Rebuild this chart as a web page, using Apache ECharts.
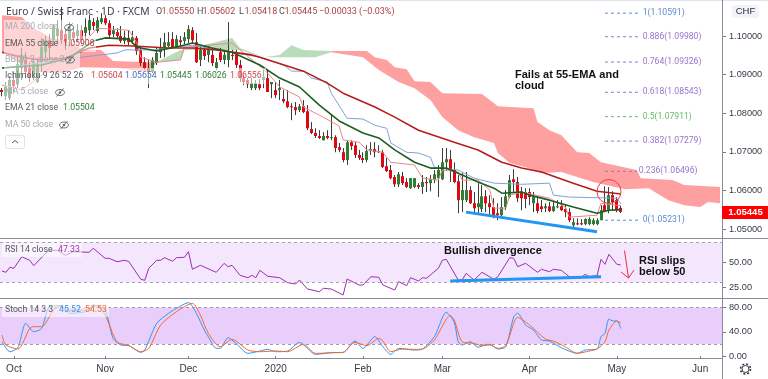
<!DOCTYPE html>
<html lang="en">
<head>
<meta charset="UTF-8">
<style>html,body{margin:0;padding:0;background:#fff}#chart{width:768px;height:379px}</style>
<script src="https://cdn.jsdelivr.net/npm/echarts@6/dist/echarts.min.js"></script>
</head>
<body>
<div id="chart"></div>
<script>
// candles, one row = 10 bars
var opens = [1.0860,1.0844,1.0839,1.0886,1.0875,1.0917,1.0938,1.0917,1.0901,1.0881,
1.0930,1.0958,1.0989,1.0989,1.1000,1.1015,1.1005,1.0989,1.1010,1.1000,
1.1015,1.1008,1.1015,1.1036,1.1013,1.1036,1.1046,1.1033,1.1005,1.1010,
1.1000,1.0987,1.0995,1.0987,1.0995,1.0964,1.0932,1.0917,1.0907,1.0930,
1.0958,1.0971,1.0974,1.0992,1.0971,1.0989,1.0987,1.0992,1.1015,1.0984,
1.0938,1.0964,1.0951,1.0951,1.0917,1.0958,1.0938,1.0938,1.0951,1.0951,
1.0925,1.0891,1.0886,1.0865,1.0865,1.0875,1.0886,1.0891,1.0875,1.0860,
1.0860,1.0837,1.0831,1.0818,1.0816,1.0808,1.0818,1.0805,1.0759,1.0749,
1.0741,1.0730,1.0741,1.0736,1.0738,1.0712,1.0699,1.0679,1.0725,1.0717,
1.0692,1.0684,1.0679,1.0702,1.0707,1.0699,1.0699,1.0663,1.0653,1.0635,
1.0616,1.0637,1.0622,1.0606,1.0609,1.0614,1.0609,1.0622,1.0619,1.0627,
1.0632,1.0629,1.0673,1.0681,1.0653,1.0624,1.0575,1.0575,1.0601,1.0567,
1.0557,1.0552,1.0585,1.0567,1.0557,1.0541,1.0536,1.0557,1.0583,1.0629,
1.0622,1.0598,1.0596,1.0596,1.0567,1.0567,1.0559,1.0554,1.0559,1.0547,
1.0557,1.0559,1.0552,1.0544,1.0510,1.0515,1.0515,1.0513,1.0513,1.0513,
1.0513,1.0523,1.0562,1.0549,1.0588,1.0575,1.0555];
var closes = [1.0855,1.0870,1.0886,1.0870,1.0927,1.0951,1.0907,1.0891,1.0932,1.0930,
1.0971,1.0989,1.0969,1.1020,1.1020,1.0989,1.0984,1.1020,1.0995,1.1015,
1.0989,1.1023,1.1041,1.1026,1.1041,1.1046,1.1033,1.1002,1.1015,1.1000,
1.0987,1.0997,1.0984,1.0997,1.0961,1.0930,1.0917,1.0907,1.0938,1.0956,
1.0971,1.0984,1.0984,1.0971,1.0992,1.0984,1.0997,1.1018,1.0989,1.0932,
1.0964,1.0948,1.0964,1.0930,1.0932,1.0938,1.0951,1.0958,1.0948,1.0925,
1.0891,1.0881,1.0875,1.0878,1.0878,1.0865,1.0894,1.0855,1.0881,1.0847,
1.0865,1.0831,1.0816,1.0816,1.0808,1.0818,1.0803,1.0761,1.0749,1.0741,
1.0736,1.0741,1.0736,1.0738,1.0710,1.0705,1.0679,1.0725,1.0715,1.0692,
1.0684,1.0679,1.0702,1.0707,1.0699,1.0702,1.0661,1.0650,1.0632,1.0616,
1.0642,1.0619,1.0609,1.0632,1.0632,1.0609,1.0622,1.0619,1.0629,1.0642,
1.0653,1.0673,1.0681,1.0653,1.0622,1.0575,1.0601,1.0601,1.0567,1.0554,
1.0567,1.0585,1.0567,1.0557,1.0536,1.0536,1.0557,1.0585,1.0627,1.0622,
1.0580,1.0580,1.0578,1.0583,1.0583,1.0547,1.0552,1.0559,1.0547,1.0559,
1.0559,1.0549,1.0544,1.0523,1.0518,1.0513,1.0513,1.0526,1.0526,1.0523,
1.0523,1.0549,1.0547,1.0588,1.0570,1.0549,1.05445];
var highs = [1.0865,1.0881,1.0896,1.0907,1.0948,1.0969,1.0958,1.0932,1.0943,1.0938,
1.0995,1.1000,1.1005,1.1031,1.1041,1.1075,1.1020,1.1036,1.1023,1.1031,
1.1028,1.1046,1.1054,1.1046,1.1049,1.1059,1.1054,1.1041,1.1026,1.1020,
1.1026,1.1013,1.1015,1.1013,1.1000,1.0974,1.0945,1.0938,1.0945,1.0971,
1.0995,1.1008,1.1010,1.1010,1.1002,1.1000,1.1010,1.1028,1.1023,1.1008,
1.0974,1.0976,1.0974,1.0964,1.0943,1.0969,1.0964,1.1036,1.0964,1.0964,
1.0938,1.0899,1.0891,1.0891,1.0886,1.0888,1.0919,1.0912,1.0881,1.0881,
1.0886,1.0860,1.0860,1.0826,1.0829,1.0824,1.0834,1.0821,1.0777,1.0761,
1.0756,1.0751,1.0756,1.0795,1.0743,1.0723,1.0710,1.0730,1.0730,1.0725,
1.0705,1.0699,1.0717,1.0725,1.0725,1.0717,1.0705,1.0684,1.0666,1.0640,
1.0648,1.0648,1.0632,1.0632,1.0632,1.0619,1.0640,1.0635,1.0640,1.0653,
1.0666,1.0710,1.0710,1.0705,1.0673,1.0640,1.0645,1.0648,1.0611,1.0596,
1.0619,1.0614,1.0601,1.0588,1.0580,1.0567,1.0583,1.0601,1.0640,1.0655,
1.0635,1.0609,1.0606,1.0606,1.0596,1.0580,1.0575,1.0567,1.0570,1.0575,
1.0575,1.0575,1.0562,1.0554,1.0528,1.0528,1.0526,1.0528,1.0531,1.0528,
1.0528,1.0562,1.0611,1.0609,1.0598,1.0583,1.05602];
var lows = [1.0844,1.0834,1.0834,1.0855,1.0865,1.0886,1.0891,1.0881,1.0886,1.0878,
1.0907,1.0943,1.0938,1.0974,1.0979,1.0979,1.0964,1.0974,1.0984,1.0984,
1.0979,1.0989,1.1002,1.1015,1.1008,1.1031,1.1028,1.0995,1.0997,1.0995,
1.0982,1.0979,1.0976,1.0979,1.0951,1.0922,1.0912,1.0865,1.0904,1.0925,
1.0943,1.0945,1.0971,1.0969,1.0969,1.0974,1.0979,1.0982,1.0982,1.0930,
1.0922,1.0938,1.0932,1.0922,1.0912,1.0932,1.0927,1.0919,1.0938,1.0917,
1.0881,1.0873,1.0865,1.0860,1.0860,1.0860,1.0865,1.0855,1.0839,1.0839,
1.0834,1.0826,1.0813,1.0782,1.0795,1.0803,1.0800,1.0756,1.0746,1.0736,
1.0733,1.0730,1.0733,1.0730,1.0699,1.0699,1.0673,1.0666,1.0705,1.0684,
1.0679,1.0671,1.0673,1.0692,1.0686,1.0697,1.0658,1.0648,1.0629,1.0609,
1.0609,1.0614,1.0606,1.0604,1.0606,1.0604,1.0591,1.0596,1.0598,1.0619,
1.0583,1.0627,1.0653,1.0622,1.0619,1.0541,1.0544,1.0570,1.0565,1.0544,
1.0541,1.0544,1.0544,1.0536,1.0528,1.0523,1.0528,1.0549,1.0580,1.0596,
1.0570,1.0549,1.0554,1.0562,1.0544,1.0541,1.0544,1.0544,1.0544,1.0544,
1.0554,1.0547,1.0531,1.0518,1.0505,1.0510,1.0510,1.0510,1.0510,1.0510,
1.0510,1.0523,1.0544,1.0541,1.0547,1.0544,1.05418];

// indicators as [bar, value]
var ema55 = [[0,1.0958],[5,1.0945],[10,1.0938],[16,1.0943],[22,1.0969],[27,1.0976],[33,1.0974],[42,1.0969],[48,1.0969],[54,1.0964],[63,1.0951],[65,1.0945],[76,1.0909],[82,1.0878],[86,1.0852],[94,1.0816],[99,1.0790],[105,1.0756],[114,1.0725],[120,1.0705],[126,1.0673],[131,1.0658],[136,1.0648],[144,1.0619],[150,1.0598],[156,1.05908]];
var ema21 = [[0,1.0917],[10,1.0925],[17,1.0943],[23,1.0987],[26,1.0995],[32,1.0992],[34,1.0971],[39,1.0961],[45,1.0974],[48,1.0982],[53,1.0969],[58,1.0958],[65,1.0925],[70,1.0891],[75,1.0868],[80,1.0821],[85,1.0780],[91,1.0749],[95,1.0736],[99,1.0705],[104,1.0673],[108,1.0658],[112,1.0658],[116,1.0640],[120,1.0622],[124,1.0606],[126,1.0593],[131,1.0596],[133,1.0588],[138,1.0575],[144,1.0557],[150,1.0541],[153,1.0549],[156,1.05504]];
var conversion = [[0,1.0873],[5,1.0860],[10,1.0899],[15,1.0945],[20,1.0976],[24,1.1020],[32,1.1015],[34,1.0982],[35,1.0945],[39,1.0932],[45,1.0938],[46,1.0971],[52,1.0976],[58,1.0982],[60,1.0964],[64,1.0930],[67,1.0904],[70,1.0868],[75,1.0842],[76,1.0816],[80,1.0795],[85,1.0767],[86,1.0731],[90,1.0725],[92,1.0705],[96,1.0699],[98,1.0673],[104,1.0666],[106,1.0632],[110,1.0627],[111,1.0653],[115,1.0648],[116,1.0627],[120,1.0627],[123,1.0601],[124,1.0554],[127,1.0554],[128,1.0588],[131,1.0596],[138,1.0580],[142,1.0557],[143,1.0531],[150,1.0536],[151,1.0567],[156,1.05604]];
var baseLine = [[0,1.0917],[20,1.0945],[29,1.0956],[31,1.0964],[38,1.0964],[48,1.0976],[65,1.0945],[71,1.0925],[73,1.0909],[76,1.0909],[78,1.0891],[82,1.0881],[83,1.0852],[87,1.0787],[91,1.0785],[94,1.0769],[97,1.0761],[98,1.0723],[102,1.0699],[105,1.0697],[108,1.0686],[109,1.0660],[115,1.0653],[119,1.0632],[124,1.0619],[131,1.0616],[138,1.0619],[139,1.0588],[143,1.0583],[155,1.0580],[156,1.05654]];

// ichimoku cloud edges, one pair of arrays per coloured stretch
var cloudRed1Top = [[0,1.1054],[5,1.1049],[8,1.1020],[10,1.1010],[12,1.0997],[17,1.0984],[20,1.0966],[25,1.0964],[28,1.0935],[37,1.0932],[39,1.0932]];
var cloudRed1Bottom = [[0,1.0958],[8,1.0907],[15,1.0904],[20,1.0919],[29,1.0917],[37,1.0907],[39,1.0932]];
var cloudGreen1Top = [[39,1.0932],[41,1.0943],[45,1.0964],[53,1.0982],[58,1.0995],[60,1.0969],[66,1.0945]];
var cloudGreen1Bottom = [[39,1.0932],[45,1.0938],[46,1.0964],[60,1.0964],[66,1.0945]];
var cloudGreen2Top = [[66,1.0945],[70,1.0951],[73,1.0976],[76,1.0964],[83,1.0961]];
var cloudGreen2Bottom = [[66,1.0945],[79,1.0945],[83,1.0958]];
var cloudRed2Top = [[83,1.0961],[92,1.0961],[94,1.0945],[97,1.0938],[99,1.0919],[102,1.0914],[104,1.0883],[108,1.0881],[111,1.0852],[121,1.0850],[125,1.0818],[134,1.0813],[135,1.0777],[138,1.0756],[141,1.0743],[145,1.0699],[148,1.0697],[151,1.0673],[160,1.0653],[161,1.0632],[169,1.0627],[172,1.0614],[181,1.0609]];
var cloudRed2Bottom = [[83,1.0958],[91,1.0945],[95,1.0912],[100,1.0881],[104,1.0865],[108,1.0834],[111,1.0790],[115,1.0756],[119,1.0738],[124,1.0723],[125,1.0697],[128,1.0671],[132,1.0660],[136,1.0645],[141,1.0648],[145,1.0635],[149,1.0622],[157,1.0603],[163,1.0606],[168,1.0575],[172,1.0562],[176,1.0557],[178,1.0570],[181,1.0567]];

// fibonacci retracement
var fibNames = ['1','0.886','0.764','0.618','0.5','0.382','0.236','0'];
var fibValues = [1.10591,1.09980,1.09326,1.08543,1.07911,1.07279,1.06496,1.05231];
var fibColors = ['#5b8bd0','#9575cd','#9575cd','#9575cd','#66bb6a','#9575cd','#9575cd','#5b8bd0'];

// hand drawn trend lines
var priceTrend = [[117,1.0544],[150,1.0493]];
var rsiTrend = [[113,31.3],[151,35.6]];

var rsi = [[0,41.3],[1,40],[2,45],[3,44],[5,55.6],[7,52],[8,46.6],[11,59],[12,62],[14,62],[16,57],[18,60.6],[22,60],[23,64],[26,54],[27,54],[29,50.6],[31,52],[32,50.6],[35,33],[36,32],[37,44],[39,52],[40,52],[41,54.6],[43,51],[44,54.6],[46,55],[47,60.6],[48,43],[50,47],[54,40],[56,49],[57,45.6],[58,47],[60,37],[62,34.6],[63,37],[64,34.6],[65,42],[67,36],[70,34.6],[72,29.6],[74,28.3],[75,32.3],[77,23.3],[80,20.6],[81,24],[83,23.3],[86,17.3],[87,33.3],[90,27.3],[91,27.3],[93,35.6],[95,35],[96,27.3],[99,22.3],[100,30.6],[102,26.6],[103,34.6],[105,31.3],[106,34.6],[107,34],[110,44],[111,52],[112,53],[115,32.3],[116,32.3],[117,39],[119,32.3],[121,40],[124,33],[125,35.6],[128,54.6],[129,54],[130,45.6],[132,49],[135,40],[136,43],[138,40.6],[139,43],[141,42],[143,35.6],[146,34.6],[147,38],[148,35.6],[150,36.6],[151,53],[152,48],[153,58],[155,48],[156,47.33]];
var stochK = [[0,23.8],[2,7.3],[4,13.9],[6,54],[8,40.3],[10,45.8],[12,81.6],[15,83.2],[17,70.6],[21,73.3],[23,84.3],[26,76],[28,29.3],[30,18.3],[32,17.2],[35,6.2],[36,10],[39,54],[42,70.6],[44,78.8],[47,88.2],[49,70.6],[51,43],[52,32],[54,12.8],[55,12.8],[57,30.4],[59,21],[62,4.6],[65,8.4],[67,11.2],[69,7.3],[72,8.4],[75,22.7],[77,12.8],[79,2.9],[83,5.7],[86,6.2],[89,24.9],[91,12.8],[94,32],[96,15.6],[98,2.9],[100,12.8],[104,10],[106,11.7],[109,32],[112,72.2],[114,55.7],[115,23.8],[116,18.3],[118,23.8],[120,14.5],[122,19.4],[123,19.4],[125,11.7],[127,15.6],[129,65],[130,70.6],[132,51.3],[134,43],[136,26.6],[138,24.9],[141,13.9],[145,4.6],[147,10],[150,11.7],[151,32],[152,37.6],[153,61.2],[154,58],[155,58],[156,45.52]];
var stochD = [[0,34.8],[1,18.3],[4,11.7],[7,45.8],[8,48.6],[10,48.6],[13,76],[15,83.2],[16,76],[21,76],[24,83.2],[26,67.8],[29,23.8],[32,17.2],[35,7.3],[37,12.8],[40,51.3],[44,73.3],[48,87],[50,67.8],[52,37.6],[55,15.6],[58,27.6],[62,10],[65,7.3],[69,8.4],[72,7.3],[76,19.4],[79,4.6],[84,5.7],[86,6.2],[89,22.7],[92,17.2],[95,29.3],[96,24.9],[98,7.3],[101,11.7],[104,11.1],[106,11.7],[109,26.6],[113,66.7],[114,59.6],[116,23.8],[119,21],[121,17.2],[123,18.3],[125,12.8],[127,17.2],[130,64],[133,51.3],[137,28.2],[139,24.9],[142,15.6],[145,4.6],[148,8.4],[150,11.7],[152,23.8],[153,43],[155,57.9],[156,54.53]];

var tickIndex = [3,26,47,69,91,111,133,155,176];
var tickLabels = ['Oct','Nov','Dec','2020','Feb','Mar','Apr','May','Jun'];
var priceTicks = [1.05,1.06,1.07,1.08,1.09,1.10];
var rsiTicks = [25,50];
var stochTicks = [0,40,80];

var barCount = 182;
var categories = [];
for (var i = 0; i < barCount; i++) categories.push('bar' + i);

var candleData = opens.map(function (o, k) { return [k, o, closes[k], lows[k], highs[k]]; });

var cloudRuns = [
    {top: cloudRed1Top, bottom: cloudRed1Bottom, color: '#ffa0a0'},
    {top: cloudGreen1Top, bottom: cloudGreen1Bottom, color: '#b9dcbb'},
    {top: cloudGreen2Top, bottom: cloudGreen2Bottom, color: '#b9dcbb'},
    {top: cloudRed2Top, bottom: cloudRed2Bottom, color: '#ffa0a0'}
];

function renderCloud(params, api) {
    var run = cloudRuns[params.dataIndex];
    var pts = run.top.concat(run.bottom.slice().reverse()).map(function (p) {
        return api.coord(p);
    });
    return {type: 'polygon', shape: {points: pts}, style: {fill: run.color}, silent: true};
}

function renderCandle(params, api) {
    var idx = api.value(0), o = api.value(1), c = api.value(2);
    var up = c >= o;
    var topPt = api.coord([idx, Math.max(o, c)]);
    var botPt = api.coord([idx, Math.min(o, c)]);
    var lowPt = api.coord([idx, api.value(3)]);
    var highPt = api.coord([idx, api.value(4)]);
    var cx = Math.floor(topPt[0]) + 0.5;
    return {
        type: 'group',
        children: [
            {type: 'line', shape: {x1: cx, y1: highPt[1], x2: cx, y2: lowPt[1]}, style: {stroke: '#3c3c3c', lineWidth: 1}},
            {type: 'rect', shape: {x: cx - 1.5, y: topPt[1], width: 3, height: Math.max(botPt[1] - topPt[1], 1)}, style: {fill: up ? '#2e7d32' : '#e30613'}}
        ]
    };
}

function thinLine(name, data, color, width, idx) {
    return {
        name: name, type: 'line', data: data, xAxisIndex: idx, yAxisIndex: idx, symbol: 'none',
        lineStyle: {color: color, width: width}, z: 4, silent: true, animation: false
    };
}

var series = [
    {type: 'custom', renderItem: renderCloud, xAxisIndex: 0, yAxisIndex: 0, z: 1, silent: true,
        data: cloudRuns.map(function (r, k) { return [k, r.top[0][1]]; })},
    {type: 'custom', renderItem: renderCandle, xAxisIndex: 0, yAxisIndex: 0, z: 2, silent: true,
        encode: {x: 0, y: [1, 2, 3, 4]}, data: candleData},
    thinLine('Conversion', conversion, '#e88a8a', 1, 0),
    thinLine('Base', baseLine, '#7fa3d8', 1, 0),
    thinLine('EMA 55', ema55, '#b71c1c', 1.6, 0),
    thinLine('EMA 21', ema21, '#1b5e20', 1.6, 0),
    thinLine('Support', priceTrend, '#2196f3', 3, 0),
    {
        name: 'RSI', type: 'line', data: rsi, xAxisIndex: 1, yAxisIndex: 1, symbol: 'none', z: 4, silent: true,
        lineStyle: {color: '#9c2fb0', width: 1},
        markArea: {silent: true, itemStyle: {color: '#f4e6fd'}, data: [[{yAxis: 30}, {yAxis: 70}]]},
        markLine: {silent: true, symbol: 'none', label: {show: false}, lineStyle: {color: '#a8a0b0', type: [3, 3], width: 1}, data: [{yAxis: 30}, {yAxis: 70}]}
    },
    thinLine('RSI support', rsiTrend, '#2196f3', 3, 1),
    {
        name: '%K', type: 'line', data: stochK, xAxisIndex: 2, yAxisIndex: 2, symbol: 'none', z: 4, silent: true, smooth: 0.25,
        lineStyle: {color: '#2f96f3', width: 1},
        markArea: {silent: true, itemStyle: {color: '#e9cefb'}, data: [[{yAxis: 20}, {yAxis: 80}]]},
        markLine: {silent: true, symbol: 'none', label: {show: false}, lineStyle: {color: '#a098a8', type: [3, 3], width: 1}, data: [{yAxis: 20}, {yAxis: 80}]}
    },
    {name: '%D', type: 'line', data: stochD, xAxisIndex: 2, yAxisIndex: 2, symbol: 'none', z: 5, silent: true, smooth: 0.25,
        lineStyle: {color: '#f26a2e', width: 1}}
];

fibValues.forEach(function (v, k) {
    var endBar = fibNames[k] === '0.236' ? 160 : 161;
    series.push({
        type: 'line', data: [[152, v], [endBar, v]], xAxisIndex: 0, yAxisIndex: 0, symbol: 'none', z: 3, silent: true,
        lineStyle: {color: fibColors[k], width: 1, type: [3, 3]},
        endLabel: {show: true, distance: 2, formatter: fibNames[k] + '(' + v.toFixed(5) + ')', color: fibColors[k], fontSize: 8.6, fontFamily: 'Roboto'}
    });
});

function xAxis(gridIndex, showLabels) {
    return {
        type: 'category', gridIndex: gridIndex, data: categories, boundaryGap: true,
        axisLine: {show: false}, splitLine: {show: false},
        axisTick: {show: showLabels, length: 3, alignWithLabel: true, lineStyle: {color: '#787b86'},
            interval: function (k) { return tickIndex.indexOf(k) >= 0; }},
        axisLabel: {show: showLabels, margin: 6, color: '#333a45', fontSize: 10, fontFamily: 'Liberation Sans',
            interval: function (k) { return tickIndex.indexOf(k) >= 0; },
            formatter: function (v, k) { var t = tickIndex.indexOf(k); return t >= 0 ? tickLabels[t] : ''; }}
    };
}

function yAxis(gridIndex, min, max, ticks, digits) {
    return {
        type: 'value', gridIndex: gridIndex, position: 'right', min: min, max: max, scale: true,
        splitLine: {show: false}, axisLine: {show: false},
        axisTick: {show: true, length: 4, customValues: ticks, lineStyle: {color: '#787b86'}},
        axisLabel: {show: true, customValues: ticks, margin: 7, color: '#333a45', fontSize: 9.2, fontFamily: 'Liberation Sans',
            formatter: function (v) { return v.toFixed(digits); }}
    };
}

// chart furniture
var LEGEND_FONT = '8.7px Roboto';
var els = [];
function txt(x, y, s, fill, font, align) {
    els.push({type: 'text', z: 20, silent: true, style: {x: x, y: y, text: s, fill: fill, font: font || LEGEND_FONT, align: align || 'left', verticalAlign: 'middle'}});
}
function rowBack(x, y, w, h, alpha) {
    els.push({type: 'rect', z: 19, silent: true, shape: {x: x, y: y, width: w, height: h}, style: {fill: 'rgba(255,255,255,' + alpha + ')'}});
}
function hline(y, x1, x2, color) {
    els.push({type: 'line', z: 18, silent: true, shape: {x1: x1, y1: y, x2: x2, y2: y}, style: {stroke: color, lineWidth: 1}});
}
function eye(x, y) {
    els.push({type: 'ellipse', z: 20, silent: true, shape: {cx: x, cy: y, rx: 4.5, ry: 3}, style: {fill: 'none', stroke: '#6a6d78', lineWidth: 1}});
    els.push({type: 'circle', z: 20, silent: true, shape: {cx: x, cy: y, r: 1.3}, style: {fill: '#6a6d78'}});
    els.push({type: 'line', z: 20, silent: true, shape: {x1: x - 3.5, y1: y + 4, x2: x + 3.5, y2: y - 4}, style: {stroke: '#6a6d78', lineWidth: 1}});
}

hline(0.5, 0, 768, '#e0e3eb');
hline(238.5, 0, 768, '#8a8d96');
hline(298.5, 0, 768, '#8a8d96');
hline(358.5, 0, 722, '#8a8d96');
els.push({type: 'line', z: 18, silent: true, shape: {x1: 722.5, y1: 0, x2: 722.5, y2: 379}, style: {stroke: '#8a8d96', lineWidth: 1}});

// title and OHLC
txt(6, 12, 'Euro / Swiss Franc · 1D · FXCM', '#3c4048', '10.3px "Noto Sans"');
var ohlcX = [156, 197, 239, 279];
var ohlcKeys = ['O', 'H', 'L', 'C'];
var ohlcVals = ['1.05550', '1.05602', '1.05418', '1.05445'];
ohlcKeys.forEach(function (k, n) {
    txt(ohlcX[n], 12, k, '#4a4d57', '9px Roboto');
    txt(ohlcX[n] + 5.5, 12, ohlcVals[n], '#a64242', '9px Roboto');
});
txt(319, 12, '−0.00033 (−0.03%)', '#a64242', '9px Roboto');

// indicator legend rows
rowBack(4, 20, 78, 16, 0.55);
rowBack(4, 36, 92, 16, 0.55);
rowBack(4, 52, 76, 16, 0.55);
rowBack(4, 68, 262, 16, 0.55);
rowBack(4, 84, 66, 16, 0.55);
rowBack(4, 100, 90, 16, 0.55);
rowBack(4, 117, 72, 16, 0.55);
txt(5, 27, 'MA 200 close', '#a8abb3');
eye(69, 27.5);
txt(5, 44, 'EMA 55 close', '#55585f');
txt(63, 44, '1.05908', '#b23a3a');
txt(5, 60, 'BB 20 2 close 2', '#a8abb3');
eye(70, 60);
txt(5, 76, 'Ichimoku 9 26 52 26', '#55585f');
var ichiX = [91, 125, 160, 195, 230];
var ichiVals = ['1.05604', '1.05654', '1.05445', '1.06026', '1.06556'];
var ichiColors = ['#c84a4a', '#3f72b8', '#2e7d32', '#2e7d32', '#c84a4a'];
ichiVals.forEach(function (v, n) { txt(ichiX[n], 76, v, ichiColors[n]); });
txt(5, 92, 'MA 5 close', '#a8abb3');
eye(60, 92.5);
txt(5, 108, 'EMA 21 close', '#55585f');
txt(63, 108, '1.05504', '#2e7d32');
txt(5, 125, 'MA 50 close', '#a8abb3');
eye(64, 125);
els.push({type: 'rect', z: 20, silent: true, shape: {x: 5.5, y: 135.5, width: 19, height: 13, r: 2}, style: {fill: '#fff', stroke: '#e0e3eb', lineWidth: 1}});
els.push({type: 'polyline', z: 21, silent: true, shape: {points: [[12, 143], [15, 140.5], [18, 143]]}, style: {fill: 'none', stroke: '#50535e', lineWidth: 1}});

rowBack(2, 243, 80, 14, 0.55);
txt(5, 250, 'RSI 14 close', '#55585f');
txt(58, 250, '47.33', '#9c2fb0');
rowBack(2, 303, 107, 14, 0.55);
txt(5, 310, 'Stoch 14 3 3', '#55585f');
txt(59, 310, '45.52', '#2f96f3');
txt(85, 310, '54.53', '#f26a2e');

// annotations
var NOTE_FONT = 'bold 11px "Liberation Sans"';
txt(515, 75, 'Fails at 55-EMA and', '#111', NOTE_FONT);
txt(515, 86, 'cloud', '#111', NOTE_FONT);
txt(444, 251, 'Bullish divergence', '#111', NOTE_FONT);
txt(639, 261, 'RSI slips', '#111', NOTE_FONT);
txt(639, 272, 'below 50', '#111', NOTE_FONT);
els.push({type: 'circle', z: 20, silent: true, shape: {cx: 609, cy: 191.5, r: 12}, style: {fill: 'none', stroke: '#f23b3b', lineWidth: 1}});
els.push({type: 'line', z: 20, silent: true, shape: {x1: 624.5, y1: 250.5, x2: 628.5, y2: 278}, style: {stroke: '#e8323c', lineWidth: 1}});
els.push({type: 'polyline', z: 20, silent: true, shape: {points: [[621, 272], [628.5, 278], [634, 270]]}, style: {fill: 'none', stroke: '#e8323c', lineWidth: 1}});

// right scale furniture
els.push({type: 'rect', z: 20, silent: true, shape: {x: 732, y: 5, width: 27, height: 13, r: 3}, style: {fill: '#f0f3fa'}});
txt(745.5, 11.5, 'CHF', '#2a2e39', '9.5px "Liberation Sans"', 'center');
els.push({type: 'rect', z: 20, silent: true, shape: {x: 722, y: 206, width: 46, height: 13}, style: {fill: '#ff0000'}});
txt(745.5, 212.5, '1.05445', '#fff', 'bold 9.5px "Liberation Sans"', 'center');
els.push({type: 'circle', z: 20, silent: true, shape: {cx: 745.5, cy: 369, r: 3.5}, style: {fill: 'none', stroke: '#3a3e48', lineWidth: 1}});
els.push({type: 'circle', z: 20, silent: true, shape: {cx: 745.5, cy: 369, r: 5}, style: {fill: 'none', stroke: '#3a3e48', lineWidth: 1.6, lineDash: [2, 1.93]}});

var chart = echarts.init(document.getElementById('chart'), null, {renderer: 'canvas'});
chart.setOption({
    animation: false,
    backgroundColor: '#fff',
    grid: [
        {left: 0, right: 46, top: 2, height: 236},
        {left: 0, right: 46, top: 239, height: 59},
        {left: 0, right: 46, top: 299, height: 59}
    ],
    xAxis: [xAxis(0, false), xAxis(1, false), xAxis(2, true)],
    yAxis: [
        yAxis(0, 1.0477, 1.1088, priceTicks, 5),
        yAxis(1, 14.3, 73.3, rsiTicks, 2),
        yAxis(2, -3.1, 94.2, stochTicks, 2)
    ],
    series: series,
    graphic: {elements: els}
});
</script>
</body>
</html>
